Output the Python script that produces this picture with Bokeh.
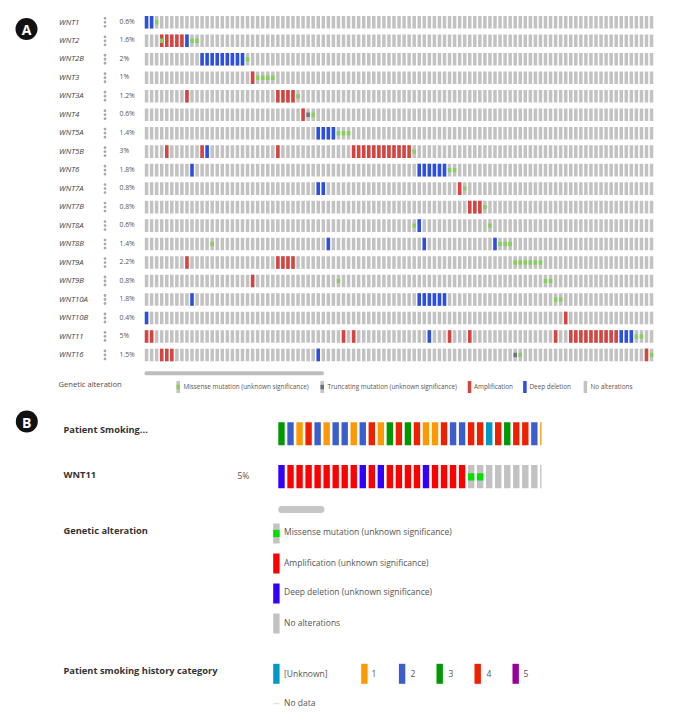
from bokeh.plotting import figure
from bokeh.layouts import column
from bokeh.embed import file_html
from bokeh.resources import INLINE
from bokeh.core.properties import value

# ---------------- data: panel A ----------------
genes = ["WNT1","WNT2","WNT2B","WNT3","WNT3A","WNT4","WNT5A","WNT5B","WNT6","WNT7A",
         "WNT7B","WNT8A","WNT8B","WNT9A","WNT9B","WNT10A","WNT10B","WNT11","WNT16"]
pct = ["0.6%","1.6%","2%","1%","1.2%","0.6%","1.4%","3%","1.8%","0.8%",
       "0.8%","0.6%","1.4%","2.2%","0.8%","1.8%","0.4%","5%","1.5%"]
n_samples = 101
amp_cols = [[],[3,4,5,6,7],[],[21],[8,26,27,28,29],[31],[],
            [4,11,26,41,42,43,44,45,46,47,48,49,50,51,52],[],[62],
            [64,65,66],[],[],[8,26,27,28,29],[21],[],[83],
            [0,1,39,41,60,64,81,84,85,86,87,88,89,90,91,92,93],[3,4,5,99]]
del_cols = [[0,1],[8],[11,12,13,14,15,16,17,18,19],[],[],[],[34,35,36,37],[12],
            [9,54,55,56,57,58,59],[34,35],[],[54],[36,55,69],[],[],
            [9,54,55,56,57,58,59],[0],[56,94,95,96],[34]]
mis_cols = [[2],[3,9,10],[20],[22,23,24,25],[30],[33],[38,39,40],[53],[60,61],[63],
            [67],[53,68],[13,70,71,72],[73,74,75,76,77,78],[38,79,80],[81,82],[],[97,98],[74,100]]
trunc_cols = [[],[],[],[],[],[32],[],[],[],[],[],[],[],[],[],[],[],[],[73]]
legend_a = ["Missense mutation (unknown significance)","Truncating mutation (unknown significance)",
            "Amplification","Deep deletion","No alterations"]

# ---------------- data: panel B ----------------
smoking = ["3","2","1","4","2","1","2","2","1","2","4","1","3","4","3","4","1","1","4","2",
           "2","4","4","[Unknown]","4","3","4","4","2","1"]
wnt11_alt = ["del","amp","amp","amp","amp","amp","amp","amp","amp","del","amp","del","amp","amp",
             "amp","amp","del","amp","amp","amp","amp","mis","mis","none","none","none","none",
             "none","none","none"]
legend_b = ["Missense mutation (unknown significance)","Amplification (unknown significance)",
            "Deep deletion (unknown significance)","No alterations"]
smoking_cats = ["[Unknown]","1","2","3","4","5"]

# ---------------- styles ----------------
A_NONE, A_AMP, A_DEL, A_MIS, A_TRUNC = "#c2c2c2", "#d8433f", "#2a4ee6", "#86d05a", "#6a7280"
B_NONE, B_AMP, B_DEL, B_MIS = "#c2c2c2", "#ff0000", "#3300ff", "#00e000"
SMOKE = {"[Unknown]":"#0099c6","1":"#ff9900","2":"#3a5fcd","3":"#009900","4":"#ee2000","5":"#990099"}
FONT = value("Open Sans")
TXT = "#4a4a4a"

def new_fig(w, h, xr, yr):
    p = figure(width=w, height=h, x_range=xr, y_range=yr, output_backend="svg",
               toolbar_location=None, min_border=0, outline_line_color=None,
               background_fill_color="white", border_fill_color="white")
    p.axis.visible = False
    p.grid.visible = False
    return p

# ================ panel A ================
AX0, AP = 146.05, 5.05         # page x of column 0 centre, px per column
AY0, AR = 21.8, 18.48          # page y of row 0 centre, px per row
ax = lambda px: (px - AX0) / AP
ay = lambda py: (py - AY0) / AR
pa = new_fig(671, 405, (ax(0), ax(671)), (ay(405), ay(0)))
BW = 3.5 / AP
BH = 12.6 / AR
SH = 4.4 / AR

def row_xy(lists):
    xs, ys = [], []
    for r, cols in enumerate(lists):
        for c in cols:
            xs.append(c); ys.append(r)
    return xs, ys

def bars(p, xs, ys, w, h, color):
    p.vbar(x=xs, top=[y - h / 2 for y in ys], bottom=[y + h / 2 for y in ys], width=w,
           fill_color=color, line_color=None)

# grey background for all
xs = [c for _ in genes for c in range(n_samples)]
ys = [r for r in range(len(genes)) for _ in range(n_samples)]
bars(pa, xs, ys, BW, BH, A_NONE)
bars(pa, *row_xy(amp_cols), BW, BH, A_AMP)
bars(pa, *row_xy(del_cols), BW, BH, A_DEL)
bars(pa, *row_xy(mis_cols), BW, SH, A_MIS)
bars(pa, *row_xy(trunc_cols), BW, SH, A_TRUNC)

rows = list(range(len(genes)))
TY = 0.8 / AR  # raises the text to the rows' visual centre
pa.text(x=[ax(58.5)] * len(genes), y=[r - TY for r in rows], text=genes, text_font=FONT, text_font_style="italic",
        text_font_size="7.8px", text_color="#444444", text_baseline="middle", text_align="left")
pa.text(x=[ax(119)] * len(genes), y=[r - TY for r in rows], text=pct, text_font=FONT,
        text_font_size="6.8px", text_color="#555555", text_baseline="middle", text_align="left")
for d in (-4, 0, 4):
    pa.scatter(x=[ax(104.5)] * len(genes), y=[r + d / AR for r in rows], size=2.8, marker="circle",
               fill_color="#a8a8a8", line_color=None)

# scrollbar
pa.line(x=[ax(146), ax(321.5)], y=[ay(372.7)] * 2, line_color="#bdbdbd", line_width=4, line_cap="round")

# legend
pa.text(x=[ax(58)], y=[ay(383.6)], text=["Genetic alteration"], text_font=FONT,
        text_font_size="7.6px", text_color=TXT, text_baseline="middle")
leg_x = [177.7, 321.7, 469, 524.4, 584.9]
leg_tx = [183, 327, 473.5, 529, 590]
leg_c = [A_NONE, A_NONE, A_AMP, A_DEL, A_NONE]
leg_y = ay(386.5)
bars(pa, [ax(v) for v in leg_x], [leg_y] * 5, BW, 12 / AR, leg_c)
bars(pa, [ax(leg_x[0])], [leg_y], BW, SH, A_MIS)
bars(pa, [ax(leg_x[1])], [leg_y], BW, SH, A_TRUNC)
pa.text(x=[ax(v) for v in leg_tx], y=[leg_y - TY] * 5, text=legend_a, text_font=FONT,
        text_font_size="6.35px", text_color="#555555", text_baseline="middle")
# badge
pa.scatter(x=[ax(26)], y=[ay(28.5)], size=22, marker="circle", fill_color="#111111", line_color=None)
pa.text(x=[ax(26)], y=[ay(29)], text=["A"], text_font=FONT, text_font_style="bold",
        text_font_size="14px", text_color="white", text_align="center", text_baseline="middle")

# ================ panel B ================
BX0, BP = 281.0, 9.03
bx = lambda px: (px - BX0) / BP
PT = 405
pb = new_fig(671, 303, (bx(0), bx(671)), (708, PT))
W2 = 6.4 / BP
CLIP = bx(541)
lefts = [i - W2 / 2 for i in range(len(smoking))]
rights = [min(i + W2 / 2, CLIP) for i in range(len(smoking))]
pb.quad(left=lefts, right=rights, top=[421.7] * len(smoking), bottom=[444.7] * len(smoking),
        fill_color=[SMOKE[s] for s in smoking], line_color=None)
alt_col = {"amp": B_AMP, "del": B_DEL, "mis": B_NONE, "none": B_NONE}
pb.quad(left=lefts, right=rights, top=[464.5] * len(wnt11_alt), bottom=[487.7] * len(wnt11_alt),
        fill_color=[alt_col[a] for a in wnt11_alt], line_color=None)
mis_i = [i for i, a in enumerate(wnt11_alt) if a == "mis"]
pb.quad(left=[lefts[i] for i in mis_i], right=[rights[i] for i in mis_i],
        top=[472.7] * len(mis_i), bottom=[480] * len(mis_i), fill_color=B_MIS, line_color=None)
pb.line(x=[bx(281.2), bx(320.5)], y=[509, 509], line_color="#c6c6c6", line_width=7, line_cap="round")

BOLD = dict(text_font=FONT, text_font_style="bold", text_font_size="9.3px",
            text_color="#333333", text_baseline="middle")
NORM = dict(text_font=FONT, text_font_size="8.5px", text_color="#555555", text_baseline="middle")
pb.text(x=[bx(63)] * 4, y=[428.9, 473.9, 530.2, 670.2],
        text=["Patient Smoking...", "WNT11", "Genetic alteration", "Patient smoking history category"], **BOLD)
pb.text(x=[bx(237)], y=[475], text=["5%"], **NORM)

# genetic alteration legend
ly = [533, 563, 593, 623]
lc = [B_NONE, B_AMP, B_DEL, B_NONE]
lx = bx(275.9)
pb.vbar(x=[lx] * 4, top=[y - 10 for y in ly], bottom=[y + 10 for y in ly], width=W2,
        fill_color=lc, line_color=None)
pb.vbar(x=[lx], top=[529.4], bottom=[536.6], width=W2, fill_color=B_MIS, line_color=None)
pb.text(x=[bx(283.5)] * 4, y=[531, 561.5, 591, 621.5], text=legend_b, **NORM)

# smoking legend
sx = [275.9, 363.9, 401.6, 439.2, 477.2, 515.2]
stx = [283.5, 371, 410, 448, 486, 523]
pb.vbar(x=[bx(v) for v in sx], top=[663.3] * 6, bottom=[683.3] * 6, width=W2,
        fill_color=[SMOKE[s] for s in smoking_cats], line_color=None)
pb.text(x=[bx(v) for v in stx], y=[673] * 6, text=smoking_cats, **NORM)
pb.line(x=[bx(273), bx(279)], y=[703, 703], line_color="#e4e4e4", line_width=1.5)
pb.text(x=[bx(283.5)], y=[702], text=["No data"], **NORM)
# badge
pb.scatter(x=[bx(26.3)], y=[421], size=22, marker="circle", fill_color="#111111", line_color=None)
pb.text(x=[bx(26.3)], y=[421.5], text=["B"], text_font=FONT, text_font_style="bold",
        text_font_size="14px", text_color="white", text_align="center", text_baseline="middle")

layout = column(pa, pb, spacing=0)
open("out.html", "w").write(file_html(layout, INLINE))
